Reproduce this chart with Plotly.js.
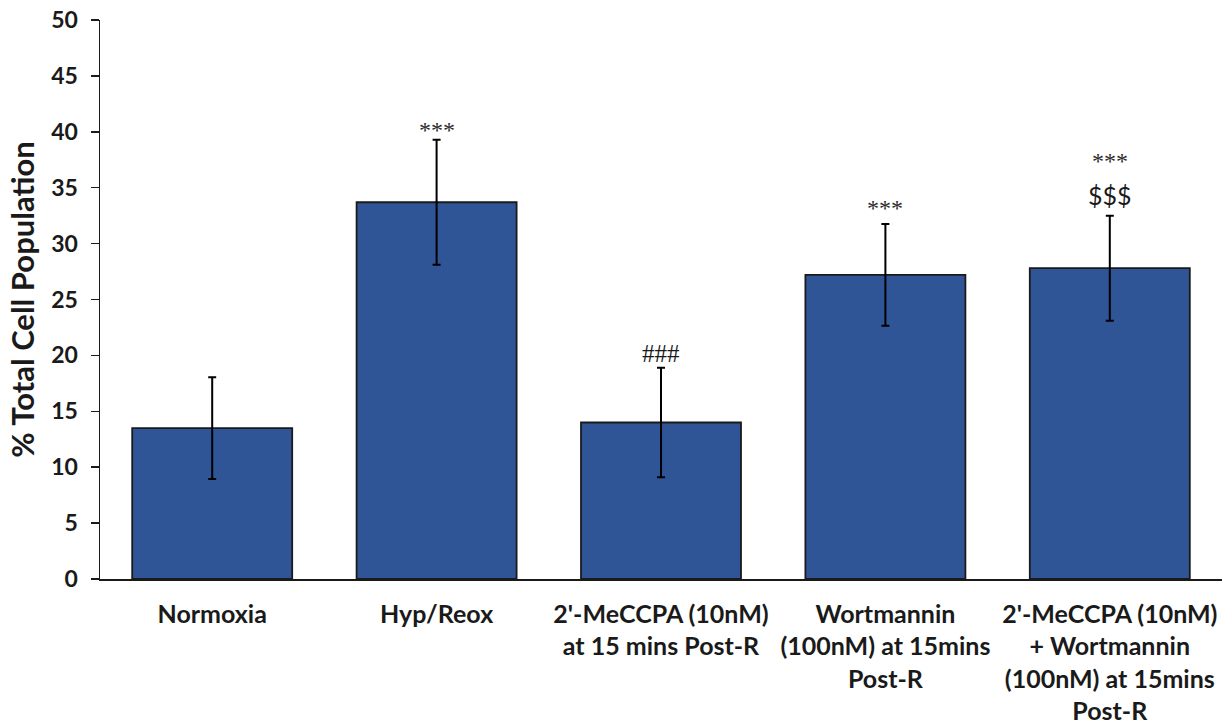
<!DOCTYPE html>
<html>
<head>
<meta charset="utf-8">
<script src="https://cdn.plot.ly/plotly-3.0.1.min.js"></script>
<style>html,body{margin:0;padding:0;background:#fff;}#chart{width:1226px;height:726px;}</style>
</head>
<body>
<div id="chart"></div>
<script>
// ---- data ----
const categories = [
  "Normoxia",
  "Hyp/Reox",
  "2'-MeCCPA (10nM)<br>at 15 mins Post-R",
  "Wortmannin<br>(100nM) at 15mins<br>Post-R",
  "2'-MeCCPA (10nM)<br>+ Wortmannin<br>(100nM) at 15mins<br>Post-R"
];
const means = [13.5, 33.7, 14.0, 27.2, 27.8];
const errors = [4.55, 5.6, 4.9, 4.55, 4.7];
const sigStars = ["", "***", "", "***", "***"];
const sigHash = ["", "", "###", "", ""];
const sigDollar = ["", "", "", "", "$$$"];
const yTicks = [0, 5, 10, 15, 20, 25, 30, 35, 40, 45, 50];

// ---- layout helpers (pixel offsets, not data) ----
const starShift = [0, -5, 0, 1, 40];
const hashShift = -1;
const dollarShift = 4;

const trace = {
  type: 'bar',
  x: categories,
  y: means,
  marker: {color: '#2F5597', line: {color: '#1a1a1a', width: 1.8}},
  error_y: {type: 'data', array: errors, visible: true, color: '#000', thickness: 2, width: 4},
  hoverinfo: 'none'
};

const annotations = [];
categories.forEach((c, i) => {
  const top = means[i] + errors[i];
  if (sigStars[i]) annotations.push({x: c, y: top, xref: 'x', yref: 'y', text: sigStars[i], showarrow: false,
    yanchor: 'bottom', yshift: starShift[i], font: {family: 'Liberation Serif', size: 24, color: '#2a2a2a'}});
  if (sigHash[i]) annotations.push({x: c, y: top, xref: 'x', yref: 'y', text: sigHash[i], showarrow: false,
    yanchor: 'bottom', yshift: hashShift, font: {family: 'Liberation Serif', size: 25, color: '#1a1a1a'}});
  if (sigDollar[i]) annotations.push({x: c, y: top, xref: 'x', yref: 'y', text: sigDollar[i], showarrow: false,
    yanchor: 'bottom', yshift: dollarShift, font: {family: 'Lato', size: 25, color: '#1a1a1a'}});
});

const layout = {
  width: 1226, height: 726,
  margin: {l: 100, r: 4, t: 20, b: 147},
  paper_bgcolor: '#fff', plot_bgcolor: '#fff',
  showlegend: false,
  bargap: 0.287,
  font: {family: 'Lato', color: '#1a1a1a'},
  xaxis: {
    showline: true, linecolor: '#1a1a1a', linewidth: 1.5,
    ticks: '', tickfont: {family: 'Lato', size: 25, weight: 'bold', color: '#1a1a1a'},
    ticklabelstandoff: 12, tickangle: 0, automargin: false
  },
  yaxis: {
    range: [0, 50], tickvals: yTicks, ticktext: yTicks.map(String),
    showline: true, linecolor: '#1a1a1a', linewidth: 1.5,
    ticks: 'outside', ticklen: 8, tickwidth: 1.5, tickcolor: '#1a1a1a',
    showgrid: false, zeroline: false,
    tickfont: {family: 'Lato', size: 23, weight: 'bold', color: '#1a1a1a'},
    ticklabelstandoff: 8,
    title: {text: '% Total Cell Population', font: {family: 'Lato', size: 31, weight: 'bold', color: '#1a1a1a'}, standoff: 7},
    automargin: false
  },
  annotations: annotations
};

Plotly.newPlot('chart', [trace], layout, {displayModeBar: false, staticPlot: true});
</script>
</body>
</html>
